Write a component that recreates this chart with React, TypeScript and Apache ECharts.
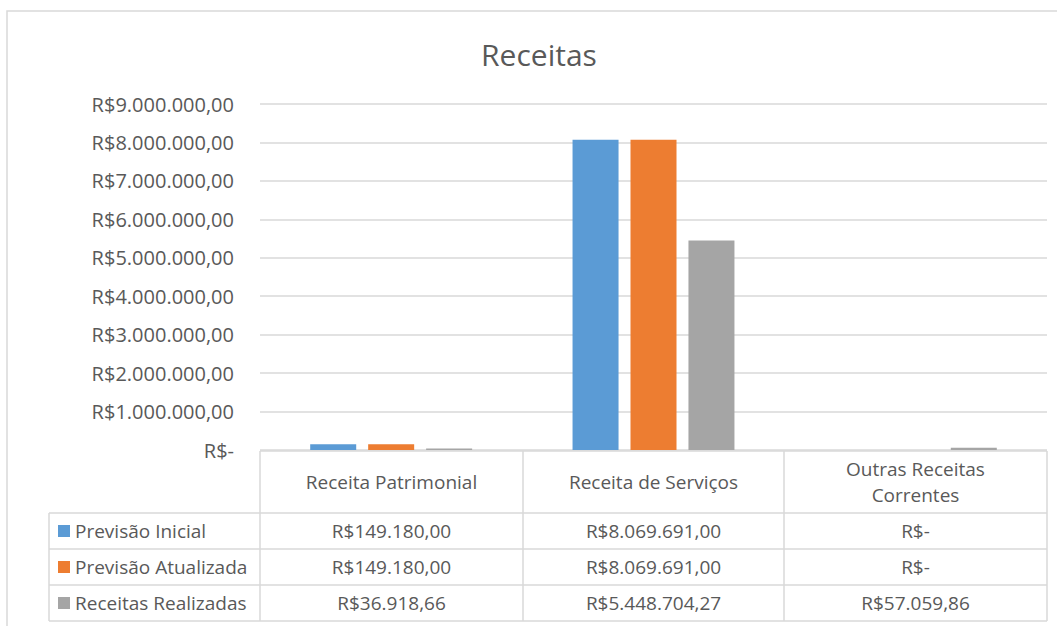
import React, { useEffect, useRef } from "react";
import * as echarts from "echarts";

const categories = ["Receita Patrimonial", "Receita de Serviços", "Outras Receitas\nCorrentes"];
const seriesNames = ["Previsão Inicial", "Previsão Atualizada", "Receitas Realizadas"];
const previsaoInicial = [149180.0, 8069691.0, 0];
const previsaoAtualizada = [149180.0, 8069691.0, 0];
const receitasRealizadas = [36918.66, 5448704.27, 57059.86];
const colors = ["#5b9bd5", "#ed7d31", "#a5a5a5"];
const yTicks = { min: 0, max: 9000000, interval: 1000000 };

const FONT = "'Open Sans', sans-serif";
const FS = 19;
const TEXT = "#595959";
const LINE = "#d9d9d9";

function brl(v: number): string {
  if (v === 0) return "R$-";
  const [i, d] = v.toFixed(2).split(".");
  const withDots = i.replace(/\B(?=(\d{3})+(?!\d))/g, ".");
  return "R$" + withDots + "," + d;
}

export default function App() {
  const ref = useRef<HTMLDivElement>(null);
  useEffect(() => {
    if (!ref.current) return;
    const chart = echarts.init(ref.current, undefined, { renderer: "svg" });
    const allSeries = [previsaoInicial, previsaoAtualizada, receitasRealizadas];

    // table layout
    const colX = [260, 523, 784, 1047];
    const legendLeft = 49;
    const headTop = 451;
    const rowY = [513, 549, 585, 621];
    const g: any[] = [];
    g.push({ type: "rect", shape: { x: 7, y: 11, width: 1200, height: 800 }, style: { fill: "none", stroke: LINE, lineWidth: 1.5 }, silent: true });
    g.push({ type: "text", x: 539, y: 54, style: { text: "Receitas", fill: TEXT, font: `30px ${FONT}`, align: "center", verticalAlign: "middle" } });
    g.push({ type: "line", shape: { x1: colX[0], y1: headTop, x2: colX[3], y2: headTop }, style: { stroke: LINE, lineWidth: 1.5 } });
    rowY.forEach((y) => g.push({ type: "line", shape: { x1: legendLeft, y1: y, x2: colX[3], y2: y }, style: { stroke: LINE, lineWidth: 1.5 } }));
    colX.forEach((x) => g.push({ type: "line", shape: { x1: x, y1: headTop, x2: x, y2: rowY[3] }, style: { stroke: LINE, lineWidth: 1.5 } }));
    g.push({ type: "line", shape: { x1: legendLeft, y1: rowY[0], x2: legendLeft, y2: rowY[3] }, style: { stroke: LINE, lineWidth: 1.5 } });
    categories.forEach((c, i) => {
      g.push({ type: "text", x: (colX[i] + colX[i + 1]) / 2, y: (headTop + rowY[0]) / 2, style: { text: c, fill: TEXT, font: `${FS}px ${FONT}`, align: "center", verticalAlign: "middle", lineHeight: 26 } });
    });
    seriesNames.forEach((n, r) => {
      const cy = (rowY[r] + rowY[r + 1]) / 2;
      g.push({ type: "rect", shape: { x: 58, y: cy - 6, width: 12, height: 12 }, style: { fill: colors[r] } });
      g.push({ type: "text", x: 75, y: cy, style: { text: n, fill: TEXT, font: `${FS}px ${FONT}`, align: "left", verticalAlign: "middle" } });
      allSeries[r].forEach((v, i) => {
        g.push({ type: "text", x: (colX[i] + colX[i + 1]) / 2, y: cy, style: { text: brl(v), fill: TEXT, font: `${FS}px ${FONT}`, align: "center", verticalAlign: "middle" } });
      });
    });

    chart.setOption({
      animation: false,
      grid: { left: 260, right: 10, top: 104, bottom: 176, containLabel: false },
      xAxis: {
        type: "category",
        data: categories,
        axisLine: { show: false },
        axisTick: { show: false },
        axisLabel: { show: false },
      },
      yAxis: {
        type: "value",
        min: yTicks.min,
        max: yTicks.max,
        interval: yTicks.interval,
        axisLine: { show: false },
        axisTick: { show: false },
        splitLine: { lineStyle: { color: LINE, width: 1.5 } },
        axisLabel: { color: TEXT, fontFamily: FONT, fontSize: 20, margin: 26, formatter: (v: number) => brl(v) },
      },
      series: seriesNames.map((n, i) => ({
        name: n,
        type: "bar",
        data: allSeries[i],
        barWidth: 46,
        barGap: "26%",
        itemStyle: { color: colors[i] },
      })),
      graphic: g,
    });
    return () => chart.dispose();
  }, []);
  return <div ref={ref} style={{ position: "fixed", left: 0, top: 0, width: 1057, height: 626, background: "#fff" }} />;
}
